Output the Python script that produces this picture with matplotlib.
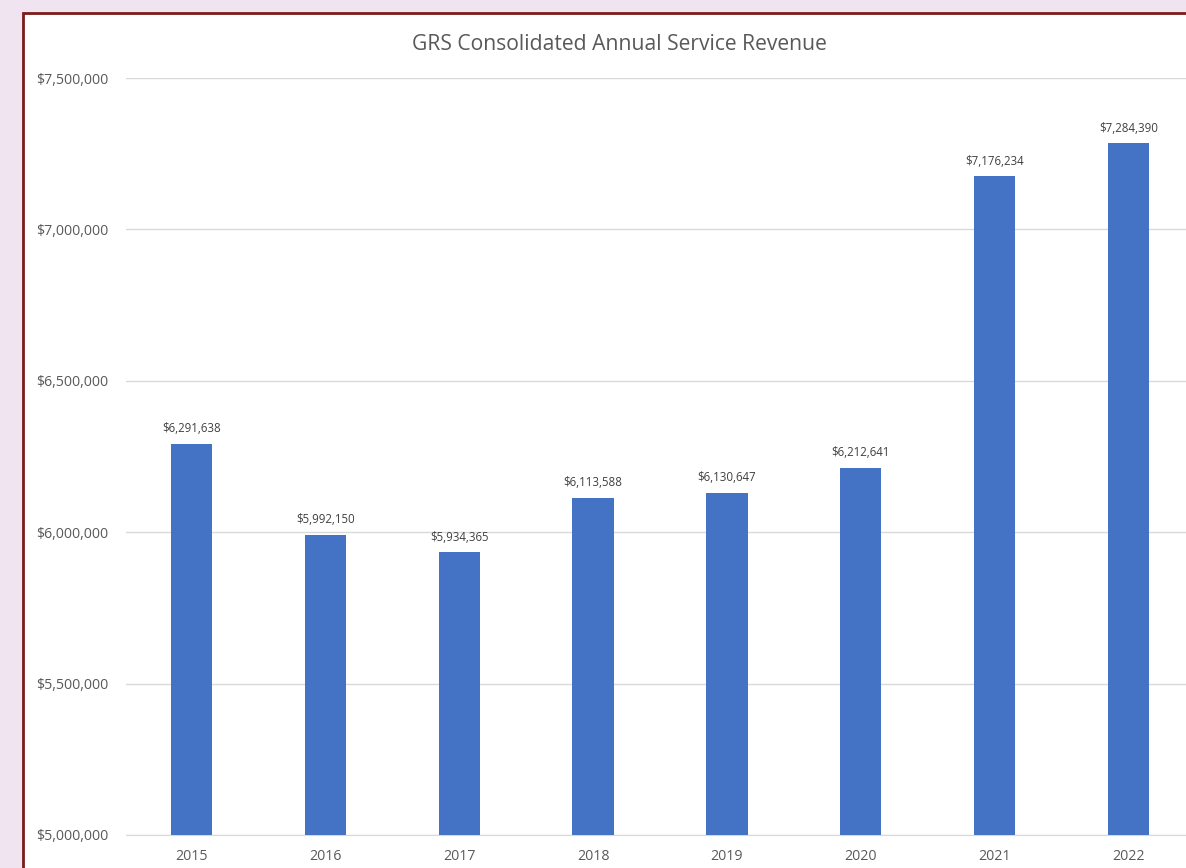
import matplotlib
matplotlib.use("Agg")
from matplotlib import pyplot as plt
from matplotlib.patches import Rectangle
from matplotlib.ticker import FuncFormatter

years = ["2015", "2016", "2017", "2018", "2019", "2020", "2021", "2022"]
revenue = [6291638, 5992150, 5934365, 6113588, 6130647, 6212641, 7176234, 7284390]
y_ticks = [5000000, 5500000, 6000000, 6500000, 7000000, 7500000]

W, H = 1186, 868
plt.rcParams["font.family"] = ["Open Sans", "DejaVu Sans"]

fig = plt.figure(figsize=(W / 100, H / 100), dpi=100)
fig.patch.set_facecolor("#F1E4F1")

# white chart frame with dark red border, running off right and bottom
frame = Rectangle((23 / W, -0.05), 1.1, (H - 13) / H + 0.05, transform=fig.transFigure,
                  facecolor="white", edgecolor="#7B1C1C", linewidth=2, zorder=-10)
fig.patches.append(frame)

ax = fig.add_axes([126 / W, 1 - 835 / H, (1194 - 126) / W, (835 - 78) / H])
ax.set_zorder(5)
ax.set_facecolor("none")

x = list(range(len(years)))
ax.bar(x, revenue, width=0.31, color="#4472C4", zorder=3)
for xi, v in zip(x, revenue):
    ax.text(xi, v + 28000, f"${v:,}", ha="center", va="bottom", fontsize=8.3, color="#404040")

ax.set_xlim(-0.49, 7.49)
ax.set_ylim(5000000, 7500000)
ax.set_yticks(y_ticks)
ax.yaxis.set_major_formatter(FuncFormatter(lambda v, p: f"${int(v):,}"))
ax.set_xticks(x)
ax.set_xticklabels(years)
ax.grid(axis="y", color="#D9D9D9", linewidth=1, zorder=0)
for s in ax.spines.values():
    s.set_visible(False)
ax.spines["bottom"].set_visible(True)
ax.spines["bottom"].set_color("#D9D9D9")
ax.tick_params(length=0, labelsize=10.2, labelcolor="#595959")
ax.tick_params(axis="y", pad=13)
ax.tick_params(axis="x", pad=10)

fig.text(619 / W, 1 - 44 / H, "GRS Consolidated Annual Service Revenue", ha="center", va="center",
         fontsize=15.2, color="#595959")

fig.savefig("out.png", dpi=100, facecolor=fig.get_facecolor())
